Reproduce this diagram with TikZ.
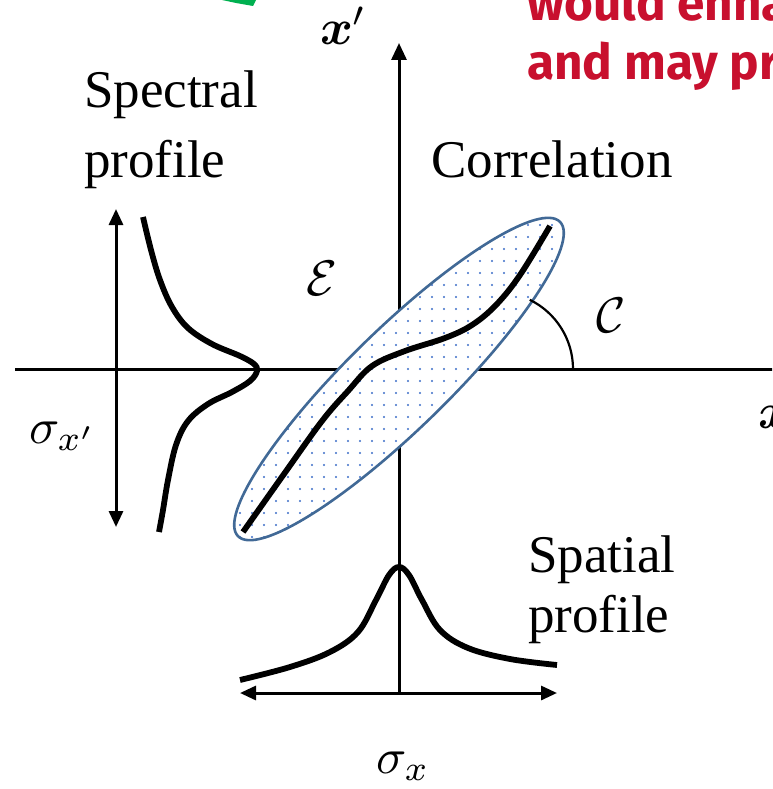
\documentclass[tikz,border=0pt]{standalone}
\usepackage{fontspec}
\setmainfont{Liberation Serif}
\newfontfamily\redfont{Fira Sans}
\usepackage{bm}
\usetikzlibrary{arrows.meta,patterns.meta}
\definecolor{ellline}{RGB}{65,105,150}
\definecolor{dotblue}{RGB}{60,110,200}
\definecolor{notered}{RGB}{200,16,46}
\definecolor{notegreen}{RGB}{0,176,80}
\begin{document}
\begin{tikzpicture}[x=1pt,y=-1pt,
  axis/.style={line width=3pt},
  tipone/.style={-{Triangle[length=17pt,width=15pt]}},
  tiptwo/.style={{Triangle[length=16pt,width=14pt]}-{Triangle[length=16pt,width=14pt]}},
  curveline/.style={line width=5.8pt, line join=round},
  lbl/.style={inner sep=0pt, anchor=base west, font={\fontsize{53}{60}\selectfont}},
  mlbl/.style={inner sep=0pt, anchor=base west, font={\fontsize{10}{12}\selectfont}, scale=5},
  note/.style={inner sep=0pt, anchor=base west, text=notered, font={\redfont\bfseries\fontsize{49.5}{60}\selectfont}},
  ellrot/.style={rotate around={44.3:(ec)}}]
\useasboundingbox (0,0) rectangle (772,789);
\clip (0,0) rectangle (772,789);

% cropped notes at top
\fill[notegreen] (222,0) -- (256,0) -- (253,6) -- (236,3) -- cycle;
\node[note] (note1) at (527,21) {would enha};
\node[note] (note2) at (527,80) {and may pr};

% axes
\coordinate (xl) at (15,369);
\coordinate (xr) at (790,369);
\coordinate (yb) at (399,693);
\coordinate (yt) at (399,43);
\draw[axis,tipone] (xl) -- (xr);
\draw[axis,tipone] (yb) -- (yt);

% spectral width arrow
\coordinate (st) at (116,209);
\coordinate (sb) at (116,527);
\draw[axis,tiptwo] (sb) -- (st);

% spatial width arrow
\coordinate (pl) at (240,693);
\coordinate (pr) at (557,693);
\draw[axis,tiptwo] (pl) -- (pr);

% spectral profile
\draw[curveline] plot[smooth,tension=0.6] coordinates {(143,217) (151,250) (160,280) (172,307) (188,328) (212,344) (240,356) (254,364) (257,371) (250,381) (232,392) (208,404) (188,421) (176,445) (168,480) (163,510) (159,532)};

% spatial profile
\draw[curveline] plot[smooth,tension=0.6] coordinates {(240,680) (290,667) (330,652) (358,632) (376,600) (389,575) (399,567) (409,575) (422,600) (440,630) (468,648) (510,659) (557,665)};

% correlation ellipse
\coordinate (ec) at (399,379);
\fill[white,ellrot] (ec) ellipse[x radius=225, y radius=50];
\fill[ellrot,pattern={Dots[distance=12pt,radius=1.1pt]},pattern color=dotblue] (ec) ellipse[x radius=225, y radius=50];
\draw[ellline,line width=2.6pt,ellrot] (ec) ellipse[x radius=225, y radius=50];

% correlation curve
\draw[curveline] plot[smooth,tension=0.6] coordinates {(243,532) (284,474) (322,421) (348,391) (372,366) (405,351) (445,338) (472,325) (496,305) (520,275) (550,226)};

% angle arc
\coordinate (arcs) at (573,369);
\draw[line width=2.2pt] (arcs) arc[start angle=0,end angle=-64,radius=77];

% labels
\node[mlbl] (xp) at (319,45) {$\bm{x}'$};
\node[mlbl] (xx) at (757,428) {$\bm{x}$};
\node[lbl] (spec1) at (84,108) {Spectral};
\node[lbl] (spec2) at (84,177) {profile};
\node[lbl] (corr) at (431,177) {Correlation};
\node[lbl] (spat1) at (528,572) {Spatial};
\node[lbl] (spat2) at (528,632) {profile};
\node[mlbl] (emit) at (305,295) {$\mathcal{E}$};
\node[mlbl] (ccal) at (595,332) {$\mathcal{C}$};
\node[mlbl] (sxp) at (28,443) {$\sigma_{x'}$};
\node[mlbl] (sx) at (375,773) {$\sigma_{x}$};
\end{tikzpicture}
\end{document}
